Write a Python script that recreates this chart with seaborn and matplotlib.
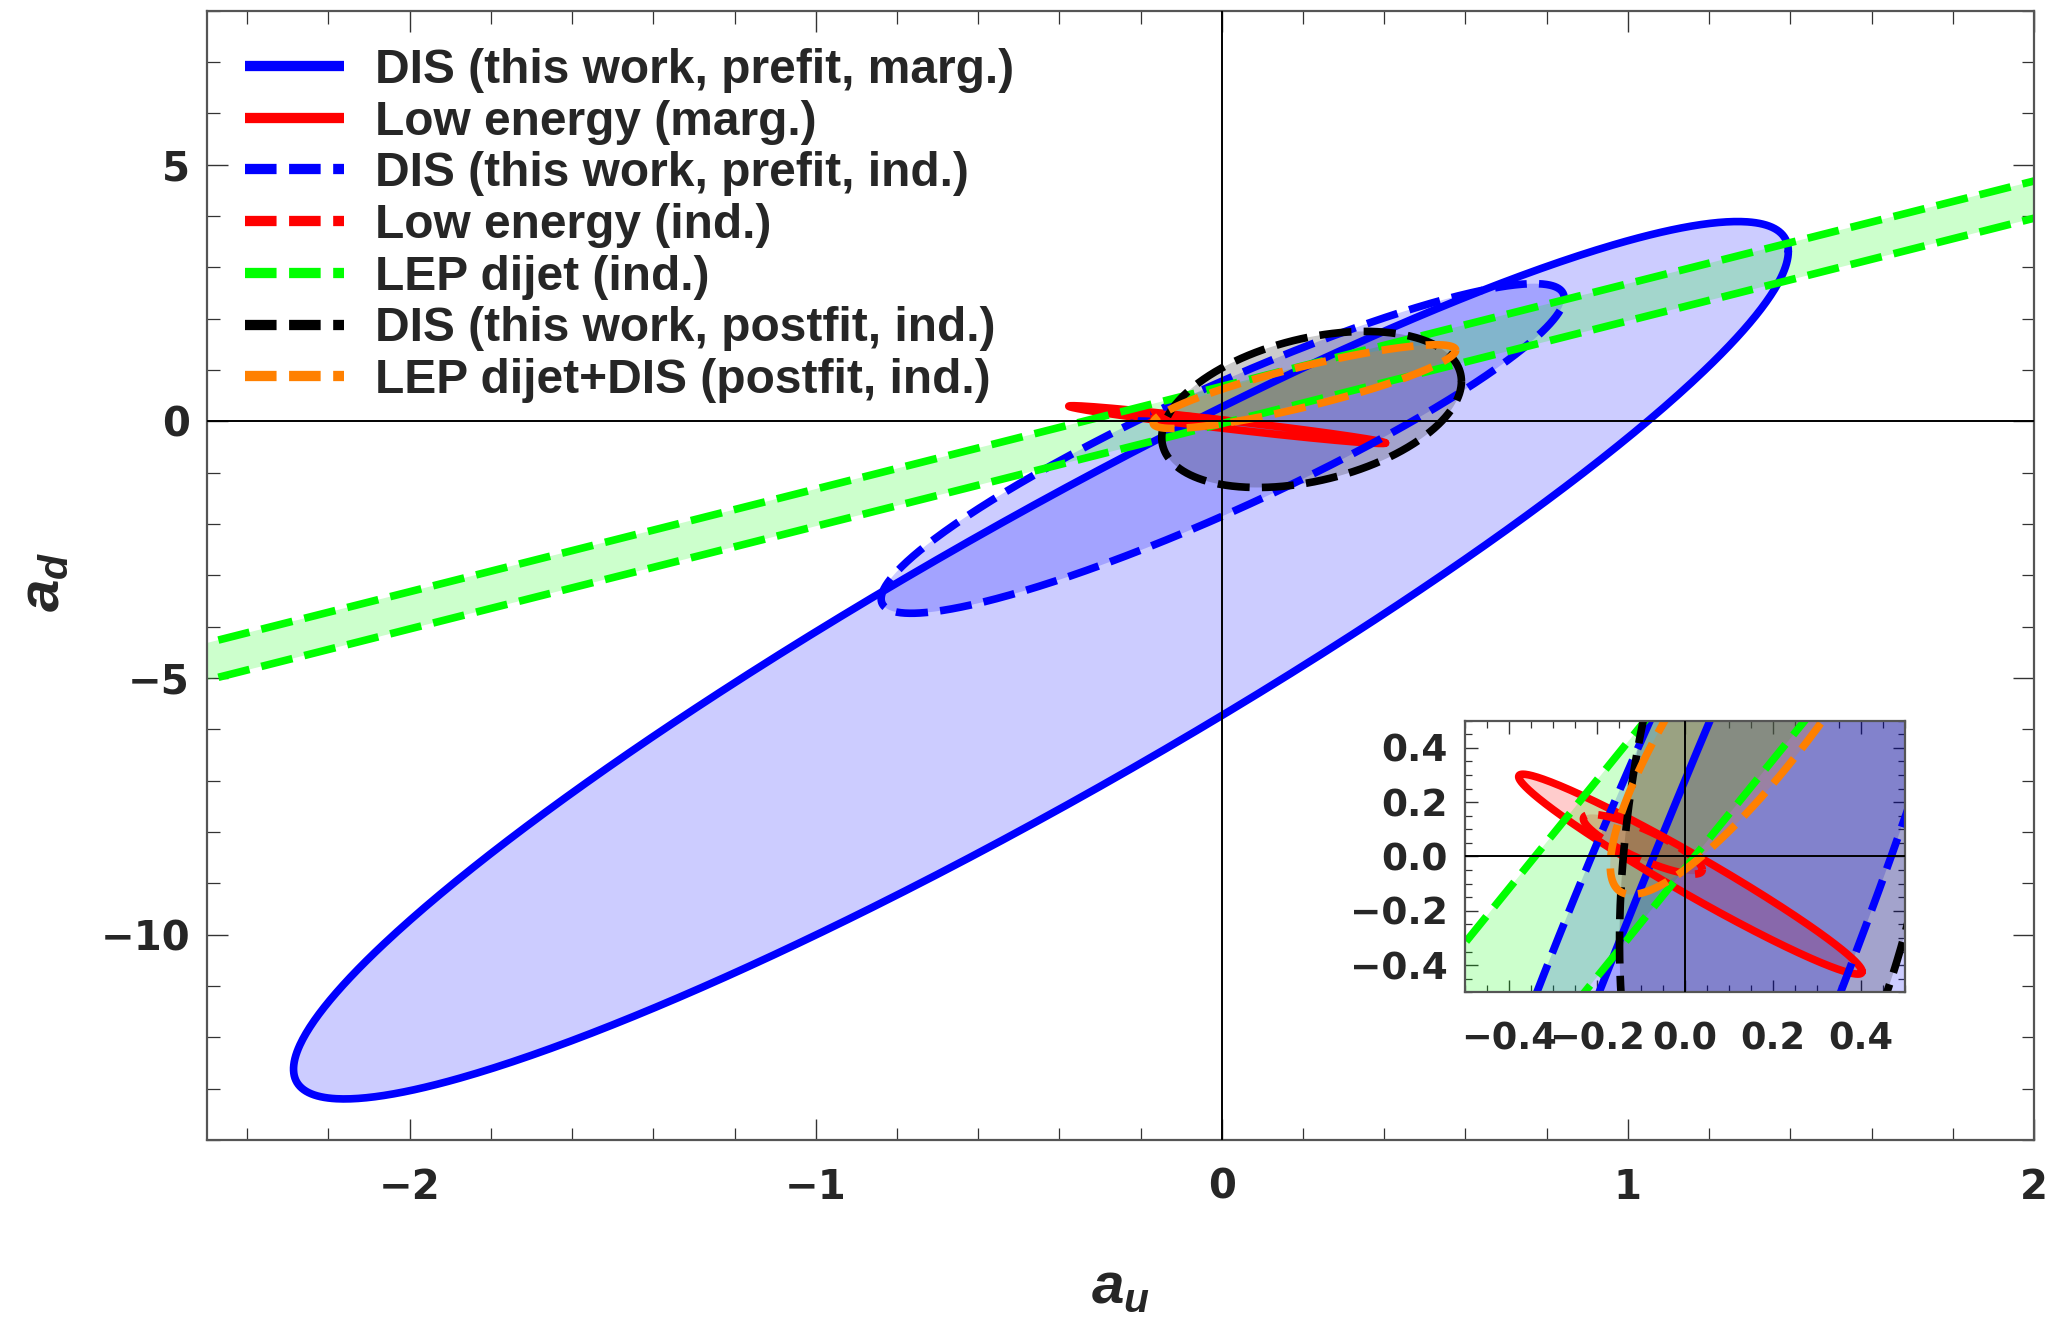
import numpy as np
import matplotlib
matplotlib.use("Agg")
import matplotlib.pyplot as plt
import seaborn as sns
from matplotlib.lines import Line2D
from matplotlib.ticker import MultipleLocator, FixedLocator, FixedFormatter

sns.set_theme(style="white")
plt.rcParams["font.family"] = ["DejaVu Sans"]
plt.rcParams["mathtext.fontset"] = "custom"
plt.rcParams["mathtext.it"] = "Liberation Sans:italic:bold"
plt.rcParams["mathtext.rm"] = "Liberation Sans:bold"

# ---- contour data -------------------------------------------------------
labels = [
    "DIS (this work, prefit, marg.)",
    "Low energy (marg.)",
    "DIS (this work, prefit, ind.)",
    "Low energy (ind.)",
    "LEP dijet (ind.)",
    "DIS (this work, postfit, ind.)",
    "LEP dijet+DIS (postfit, ind.)",
]
colors = ["#0000ff", "#ff0000", "#0000ff", "#ff0000", "#00ff00", "#000000", "#ff8000"]
dashed = [False, False, True, True, True, True, True]

# 1-sigma ellipses (index into labels): centre, widths and correlation
ell_index = [0, 1, 2, 3, 5, 6]
ell_mu_u = [-0.4455, 0.013, 0.002, -0.095, 0.221, 0.2035]
ell_mu_d = [-4.655, -0.065, -0.53, 0.045, 0.23, 0.675]
ell_sig_u = [1.8405, 0.39, 0.841, 0.135, 0.369, 0.3725]
ell_sig_d = [8.545, 0.368, 3.21, 0.11, 1.52, 0.815]
ell_rho = [0.932, -0.975, 0.912, -0.85, 0.36, 0.87]

# LEP dijet: flat direction band a_d = slope * a_u + c
lep_index = 4
lep_slope = 2.0
lep_intercepts = [-0.045, 0.68]

# axis ticks
main_xticks = [-2, -1, 0, 1, 2]
main_xlabels = ["\u22122", "\u22121", "0", "1", "2"]
main_yticks = [-10, -5, 0, 5]
main_ylabels = ["\u221210", "\u22125", "0", "5"]
inset_ticks = [-0.4, -0.2, 0.0, 0.2, 0.4]
inset_labels = ["\u22120.4", "\u22120.2", "0.0", "0.2", "0.4"]

LW = 5.5
DASH = (0, (4.2, 1.6))


def ellipse_path(mu_u, mu_d, s_u, s_d, rho, n=721):
    t = np.linspace(0.0, 2.0 * np.pi, n)
    u = mu_u + s_u * np.cos(t)
    d = mu_d + s_d * (rho * np.cos(t) + np.sqrt(1.0 - rho ** 2) * np.sin(t))
    return u, d


def draw_contours(ax):
    xlo, xhi = -3.0, 2.5
    for k in range(len(labels)):
        ls = DASH if dashed[k] else "-"
        if k == lep_index:
            xs = np.array([xlo, xhi])
            lo = lep_slope * xs + lep_intercepts[0]
            hi = lep_slope * xs + lep_intercepts[1]
            ax.fill_between(xs, lo, hi, color=colors[k], alpha=0.2, lw=0)
            for yy in (lo, hi):
                sns.lineplot(x=xs, y=yy, ax=ax, color=colors[k], lw=LW,
                             linestyle=ls, sort=False, estimator=None,
                             legend=False)
            continue
        j = ell_index.index(k)
        u, d = ellipse_path(ell_mu_u[j], ell_mu_d[j], ell_sig_u[j],
                            ell_sig_d[j], ell_rho[j])
        ax.fill(u, d, color=colors[k], alpha=0.2, lw=0)
        sns.lineplot(x=u, y=d, ax=ax, color=colors[k], lw=LW, linestyle=ls,
                     sort=False, estimator=None, legend=False)
    ax.axhline(0, color="black", lw=1.4, zorder=5)
    ax.axvline(0, color="black", lw=1.4, zorder=5)


def style_frame(ax):
    for sp in ax.spines.values():
        sp.set_color("#555555")
        sp.set_linewidth(1.6)
        sp.set_visible(True)
    ax.tick_params(which="both", direction="in", top=True, right=True,
                   bottom=True, left=True, color="#333333")


fig = plt.figure(figsize=(20.5, 13.19), dpi=100)
ax = fig.add_axes([0.1008, 0.1357, 0.8914, 0.8563])
ax.set_facecolor("white")
draw_contours(ax)
ax.set_xlim(-2.5, 2.0)
ax.set_ylim(-14.0, 8.0)
style_frame(ax)
ax.xaxis.set_major_locator(FixedLocator(main_xticks))
ax.xaxis.set_major_formatter(FixedFormatter(main_xlabels))
ax.yaxis.set_major_locator(FixedLocator(main_yticks))
ax.yaxis.set_major_formatter(FixedFormatter(main_ylabels))
ax.xaxis.set_minor_locator(MultipleLocator(0.2))
ax.yaxis.set_minor_locator(MultipleLocator(1.0))
ax.tick_params(which="major", length=15, width=1.0)
ax.tick_params(which="minor", length=9, width=0.9)
ax.tick_params(axis="x", which="major", pad=20, labelsize=29)
ax.tick_params(axis="y", which="major", pad=12, labelsize=29)
for lab in ax.get_xticklabels() + ax.get_yticklabels():
    lab.set_fontweight("bold")
ax.set_xlabel("")
ax.set_ylabel("")

fig.text(0.5465, 1 - 1286 / 1319, "$a_u$", fontsize=42, ha="center", va="center")
fig.text(42 / 2050, 1 - 582 / 1319, "$a_d$", fontsize=42, ha="center",
         va="center", rotation=90)

handles = []
for k in range(len(labels)):
    ls = (0, (3.07, 1.22)) if dashed[k] else "-"
    handles.append(Line2D([], [], color=colors[k], lw=7.4, linestyle=ls,
                          solid_capstyle="butt", dash_capstyle="butt"))
ax.legend(handles, labels, loc="upper left", bbox_to_anchor=(0.0208, 0.967),
          frameon=False, borderpad=0, borderaxespad=0, handlelength=2.08,
          handletextpad=0.64, labelspacing=0.14,
          prop=dict(family="Liberation Sans", weight="bold", size=34.5))

# zoomed view around the origin
ins = fig.add_axes([0.7144, 0.2477, 0.2148, 0.2059])
ins.set_facecolor("white")
draw_contours(ins)
ins.set_xlim(-0.5, 0.5)
ins.set_ylim(-0.5, 0.5)
style_frame(ins)
for axis in (ins.xaxis, ins.yaxis):
    axis.set_major_locator(FixedLocator(inset_ticks))
    axis.set_major_formatter(FixedFormatter(inset_labels))
    axis.set_minor_locator(MultipleLocator(0.05))
ins.tick_params(which="major", length=9, width=1.0)
ins.tick_params(which="minor", length=5, width=0.9)
ins.tick_params(axis="x", which="major", pad=20, labelsize=26.5)
ins.tick_params(axis="y", which="major", pad=12, labelsize=27)
for lab in ins.get_xticklabels() + ins.get_yticklabels():
    lab.set_fontweight("bold")
ins.set_xlabel("")
ins.set_ylabel("")

fig.savefig("out.png", dpi=100)
